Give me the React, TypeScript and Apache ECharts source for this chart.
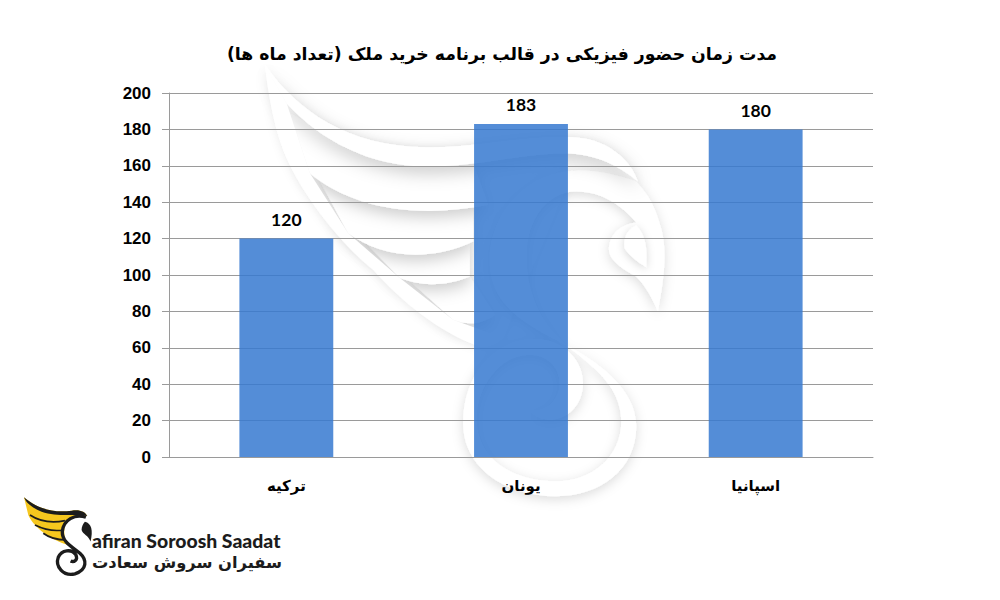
import React, { useEffect, useRef } from "react";
import * as echarts from "echarts";

const chartTitle = "مدت زمان حضور فیزیکی در قالب برنامه خرید ملک (تعداد ماه ها)";
const categories = ["ترکیه", "یونان", "اسپانیا"];
const months = [120, 183, 180];
const brandLatin = "afiran Soroosh Saadat";
const brandPersian = "سفیران سروش سعادت";

const shapes: Record<string, string> = {
  wmBase: "M75,15 C170,150 320,260 560,262 C700,265 860,225 1000,232 C1090,235 1170,290 1195,365 L1000,330 L790,835 C770,850 750,865 720,860 C600,820 480,720 400,630 C310,560 180,400 130,270 C100,190 85,100 75,15 Z",
  wmF1: "M140,130 C240,240 390,320 560,320 C720,320 840,280 980,280 C1060,282 1130,310 1195,365 C1170,290 1090,235 1000,232 C860,225 700,265 560,262 C320,260 170,150 75,15 Z",
  wmF2: "M210,340 C330,440 520,480 745,435 L700,310 L320,255 L150,160 Z",
  wmF3: "M325,520 C420,590 560,610 700,545 L700,440 L400,430 L230,345 Z",
  wmF4: "M480,655 C540,680 620,680 690,650 L690,545 L480,580 L340,510 Z",
  wmF5: "M640,780 C690,800 730,790 765,765 L690,650 L560,665 L495,650 Z",
  wmBand: "M75,15 L140,130 L210,340 L325,520 L480,655 L640,780 L790,835 C770,850 750,865 720,860 C600,820 480,720 400,630 C310,560 180,400 130,270 C100,190 85,100 75,15 Z",
  wmS: "M1255,755 C1275,650 1285,560 1260,490 C1240,420 1215,395 1190,365 C1120,340 1040,325 980,335 C850,350 750,470 750,600 C750,720 830,780 950,840 C1080,905 1190,990 1190,1100 C1190,1230 1080,1310 950,1310 C790,1310 670,1220 670,1090 C670,940 770,840 880,838 C970,838 1030,900 1030,970 C1030,1040 980,1080 930,1080 C900,1080 880,1065 870,1052 C910,1060 960,1030 960,970 C960,920 920,885 870,885 C780,885 710,980 710,1080 C710,1190 810,1265 950,1265 C1060,1265 1145,1190 1145,1085 C1145,980 1060,920 985,860 C920,810 860,720 860,590 C860,480 920,395 1010,395 C1090,395 1150,440 1190,488 C1135,495 1108,530 1108,570 C1108,600 1150,630 1190,650 C1220,680 1240,720 1255,755 Z",
  wmEye: "M1190,497 C1160,510 1150,540 1155,565 C1170,590 1200,610 1220,622 C1222,570 1222,530 1190,497 Z",
  logoWing: "M72,52 C110,85 160,100 215,92 C240,88 255,95 262,108 C230,105 205,115 195,140 C190,160 195,180 205,195 C150,180 100,140 85,105 Z",
  logoTop: "M72,52 C110,85 160,100 215,92 C240,88 255,95 262,108 C225,100 170,112 125,95 C100,85 80,72 72,52 Z",
  logoF1: "M90,105 C120,125 155,130 195,122",
  logoF2: "M105,135 C135,150 160,155 190,150",
  logoF3: "M130,160 C150,175 170,180 198,180",
  logoS: "M258,112 C225,100 190,120 187,155 C186,185 215,200 240,220 C262,240 262,270 225,282 C190,290 165,260 175,232 C185,210 215,205 228,225 C235,240 222,248 212,243",
  logoHead: "M255,125 C275,130 280,150 272,185 C265,165 250,165 245,150 C245,140 250,130 255,125 Z",
};
Object.entries(shapes).forEach(([name, d]) => {
  echarts.graphic.registerShape(name, echarts.graphic.extendPath(d, {}) as any);
});

const wmStyle = (a = 0.2, blur = 16, dy = 6) => ({
  fill: "#ffffff",
  shadowColor: `rgba(0,0,0,${a})`,
  shadowBlur: blur,
  shadowOffsetX: 0,
  shadowOffsetY: dy,
});

export default function App() {
  const ref = useRef<HTMLDivElement>(null);
  useEffect(() => {
    const chart = echarts.init(ref.current!, undefined, { renderer: "svg" });
    const wm = (type: string, style: any) => ({ type, style, z: -1 });
    chart.setOption({
      animation: false,
      backgroundColor: "#ffffff",
      title: {
        text: chartTitle,
        left: 497,
        top: 40,
        textAlign: "center",
        textStyle: { fontFamily: "DejaVu Sans", fontWeight: "bold", fontSize: 17.3, color: "#000000" },
      },
      grid: { left: 169, right: 127, top: 93, bottom: 143 },
      xAxis: {
        type: "category",
        data: categories,
        axisLine: { lineStyle: { color: "#9a9a9a", width: 1 } },
        axisTick: { length: 7, lineStyle: { color: "#9a9a9a" } },
        axisLabel: { margin: 21, fontFamily: "DejaVu Sans", fontWeight: "bold", fontSize: 15, color: "#000000" },
      },
      yAxis: {
        type: "value",
        min: 0,
        max: 200,
        interval: 20,
        axisLine: { show: true, lineStyle: { color: "#9a9a9a", width: 1 } },
        axisTick: { show: true, length: 7, lineStyle: { color: "#9a9a9a" } },
        splitLine: { lineStyle: { color: "#9a9a9a", width: 1 } },
        axisLabel: { margin: 18, fontFamily: "Liberation Sans", fontWeight: "bold", fontSize: 17, color: "#000000" },
      },
      series: [
        {
          type: "bar",
          data: months,
          barWidth: "40%",
          itemStyle: { color: "rgba(54,121,208,0.85)" },
          label: {
            show: true,
            position: "top",
            distance: 10,
            fontFamily: "Lato",
            fontWeight: "bold",
            fontSize: 17.5,
            color: "#000000",
          },
        },
      ],
      graphic: [
        {
          type: "group",
          x: 240,
          y: 60,
          scaleX: 1 / 3,
          scaleY: 1 / 3,
          z: -1,
          children: [
            wm("wmBase", wmStyle(0.07, 10, 2)),
            wm("wmF5", wmStyle()),
            wm("wmF4", wmStyle()),
            wm("wmF3", wmStyle()),
            wm("wmF2", wmStyle()),
            wm("wmS", wmStyle(0.14, 12, 3)),
            wm("wmF1", wmStyle(0.22, 18, 6)),
            wm("wmBand", { fill: "#ffffff" }),
            wm("wmEye", wmStyle(0.16, 8, 2)),
          ],
        },
        {
          type: "group",
          x: 0,
          y: 480,
          scaleX: 1 / 3,
          scaleY: 1 / 3,
          z: 20,
          children: [
            { type: "logoWing", style: { fill: "#F6C71E" } },
            { type: "logoTop", style: { fill: "#1c1c1c" } },
            { type: "logoF1", style: { fill: "none", stroke: "#1c1c1c", lineWidth: 5 } },
            { type: "logoF2", style: { fill: "none", stroke: "#1c1c1c", lineWidth: 5 } },
            { type: "logoF3", style: { fill: "none", stroke: "#1c1c1c", lineWidth: 5 } },
            { type: "logoS", style: { fill: "none", stroke: "#1c1c1c", lineWidth: 10 } },
            { type: "logoHead", style: { fill: "#1c1c1c" } },
          ],
        },
        {
          type: "text",
          x: 92,
          y: 531,
          z: 20,
          style: { text: brandLatin, fill: "#1c1c1c", fontFamily: "Lato", fontWeight: 900, fontSize: 19.4 },
        },
        {
          type: "text",
          x: 92,
          y: 554,
          z: 20,
          style: { text: brandPersian, fill: "#1c1c1c", fontFamily: "DejaVu Sans", fontWeight: "bold", fontSize: 16.3 },
        },
      ],
    });
    return () => chart.dispose();
  }, []);
  return <div ref={ref} style={{ position: "absolute", left: 0, top: 0, width: 1000, height: 600 }} />;
}
